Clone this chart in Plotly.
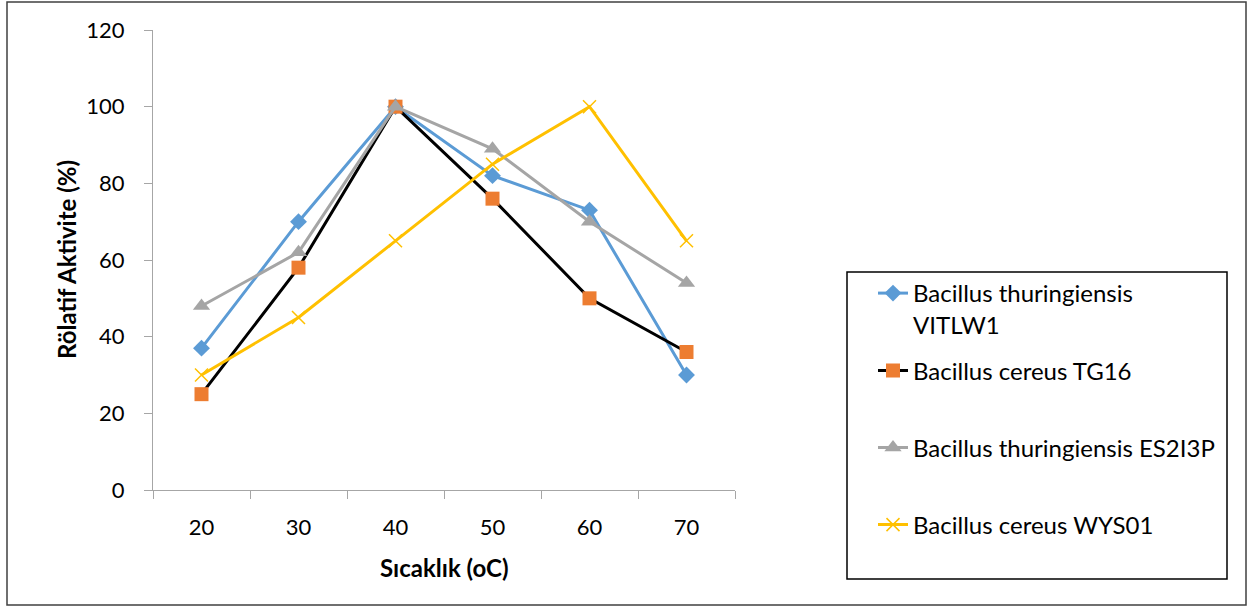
import plotly.graph_objects as go

# ---------------- data ----------------
temperatures = ["20", "30", "40", "50", "60", "70"]
vitlw1 = [37, 70, 100, 82, 73, 30]
tg16 = [25, 58, 100, 76, 50, 36]
es2i3p = [48, 62, 100, 89, 70, 54]
wys01 = [30, 45, 65, 85, 100, 65]

series_names = [
    "Bacillus thuringiensis<br>VITLW1",
    "Bacillus cereus TG16",
    "Bacillus thuringiensis ES2I3P",
    "Bacillus cereus WYS01",
]
y_ticks = [0, 20, 40, 60, 80, 100, 120]

# ---------------- layout geometry (pixels) ----------------
W, H = 1248, 607
PL, PR, PT, PB = 153, 735, 30, 490  # plot area


def px(xp):
    return (xp - PL) / (PR - PL)


def py(yp):
    return (PB - yp) / (PB - PT)


FONT = "Lato, 'Open Sans', sans-serif"
FS_TICK = 22
FS_TEXT = 24

fig = go.Figure()

styles = [
    dict(line=dict(color="#5B9BD5", width=3),
         marker=dict(symbol="diamond", size=13, color="#5B9BD5")),
    dict(line=dict(color="#000000", width=3),
         marker=dict(symbol="square", size=14, color="#ED7D31")),
    dict(line=dict(color="#A5A5A5", width=3),
         marker=dict(symbol="triangle-up", size=15, color="#A5A5A5")),
    dict(line=dict(color="#FFC000", width=3),
         marker=dict(symbol="x-thin", size=13, color="#FFC000",
                     line=dict(color="#FFC000", width=1.5))),
]
legends = ["legend", "legend2", "legend3", "legend4"]

for name, vals, st, lg in zip(series_names, [vitlw1, tg16, es2i3p, wys01], styles, legends):
    fig.add_trace(go.Scatter(
        x=temperatures, y=vals, name=name, mode="lines+markers",
        line=st["line"], marker=st["marker"], legend=lg,
        hoverinfo="skip",
    ))

legend_common = dict(
    font=dict(family=FONT, size=FS_TEXT, color="#000000"),
    bgcolor="rgba(0,0,0,0)", borderwidth=0, xanchor="left",
    x=px(873), valign="top",
)

fig.update_layout(
    width=W, height=H,
    margin=dict(l=PL, r=W - PR, t=PT, b=H - PB, autoexpand=False),
    paper_bgcolor="white", plot_bgcolor="white",
    font=dict(family=FONT, size=FS_TICK, color="#000000"),
    showlegend=True,
    legend=dict(**legend_common, y=py(271), yanchor="top"),
    legend2=dict(**legend_common, y=py(371), yanchor="middle"),
    legend3=dict(**legend_common, y=py(448), yanchor="middle"),
    legend4=dict(**legend_common, y=py(525), yanchor="middle"),
    xaxis=dict(
        type="category", range=[-0.5, 5.5],
        showline=True, linecolor="#A6A6A6", linewidth=1.3,
        ticks="outside", ticklen=8, tickcolor="#A6A6A6", tickwidth=1.3,
        tickson="boundaries", showgrid=False, zeroline=False,
        tickfont=dict(family=FONT, size=FS_TICK, color="#000000"),
        ticklabelstandoff=17,
    ),
    yaxis=dict(
        range=[0, 120], tickvals=y_ticks,
        showline=True, linecolor="#A6A6A6", linewidth=1.3,
        ticks="outside", ticklen=8, tickcolor="#A6A6A6", tickwidth=1.3,
        showgrid=False, zeroline=False,
        tickfont=dict(family=FONT, size=FS_TICK, color="#000000"),
        ticklabelstandoff=15,
    ),
    annotations=[
        dict(text="<b>Sıcaklık (oC)</b>", xref="paper", yref="paper",
             x=px(444), y=py(567), xanchor="center", yanchor="middle",
             showarrow=False, font=dict(family=FONT, size=FS_TEXT, color="#000000")),
        dict(text="<b>Rölatif Aktivite (%)</b>", xref="paper", yref="paper",
             x=px(66), y=py(260), xanchor="center", yanchor="middle",
             textangle=-90, showarrow=False,
             font=dict(family=FONT, size=FS_TEXT, color="#000000")),
    ],
    shapes=[
        dict(type="rect", xref="paper", yref="paper",
             x0=px(7), x1=px(1246), y0=py(605), y1=py(2),
             line=dict(color="#404040", width=1.5), layer="below"),
        dict(type="rect", xref="paper", yref="paper",
             x0=px(847), x1=px(1227), y0=py(579), y1=py(272),
             line=dict(color="#000000", width=1.5), layer="below"),
    ],
)

fig.write_html("out.html")
